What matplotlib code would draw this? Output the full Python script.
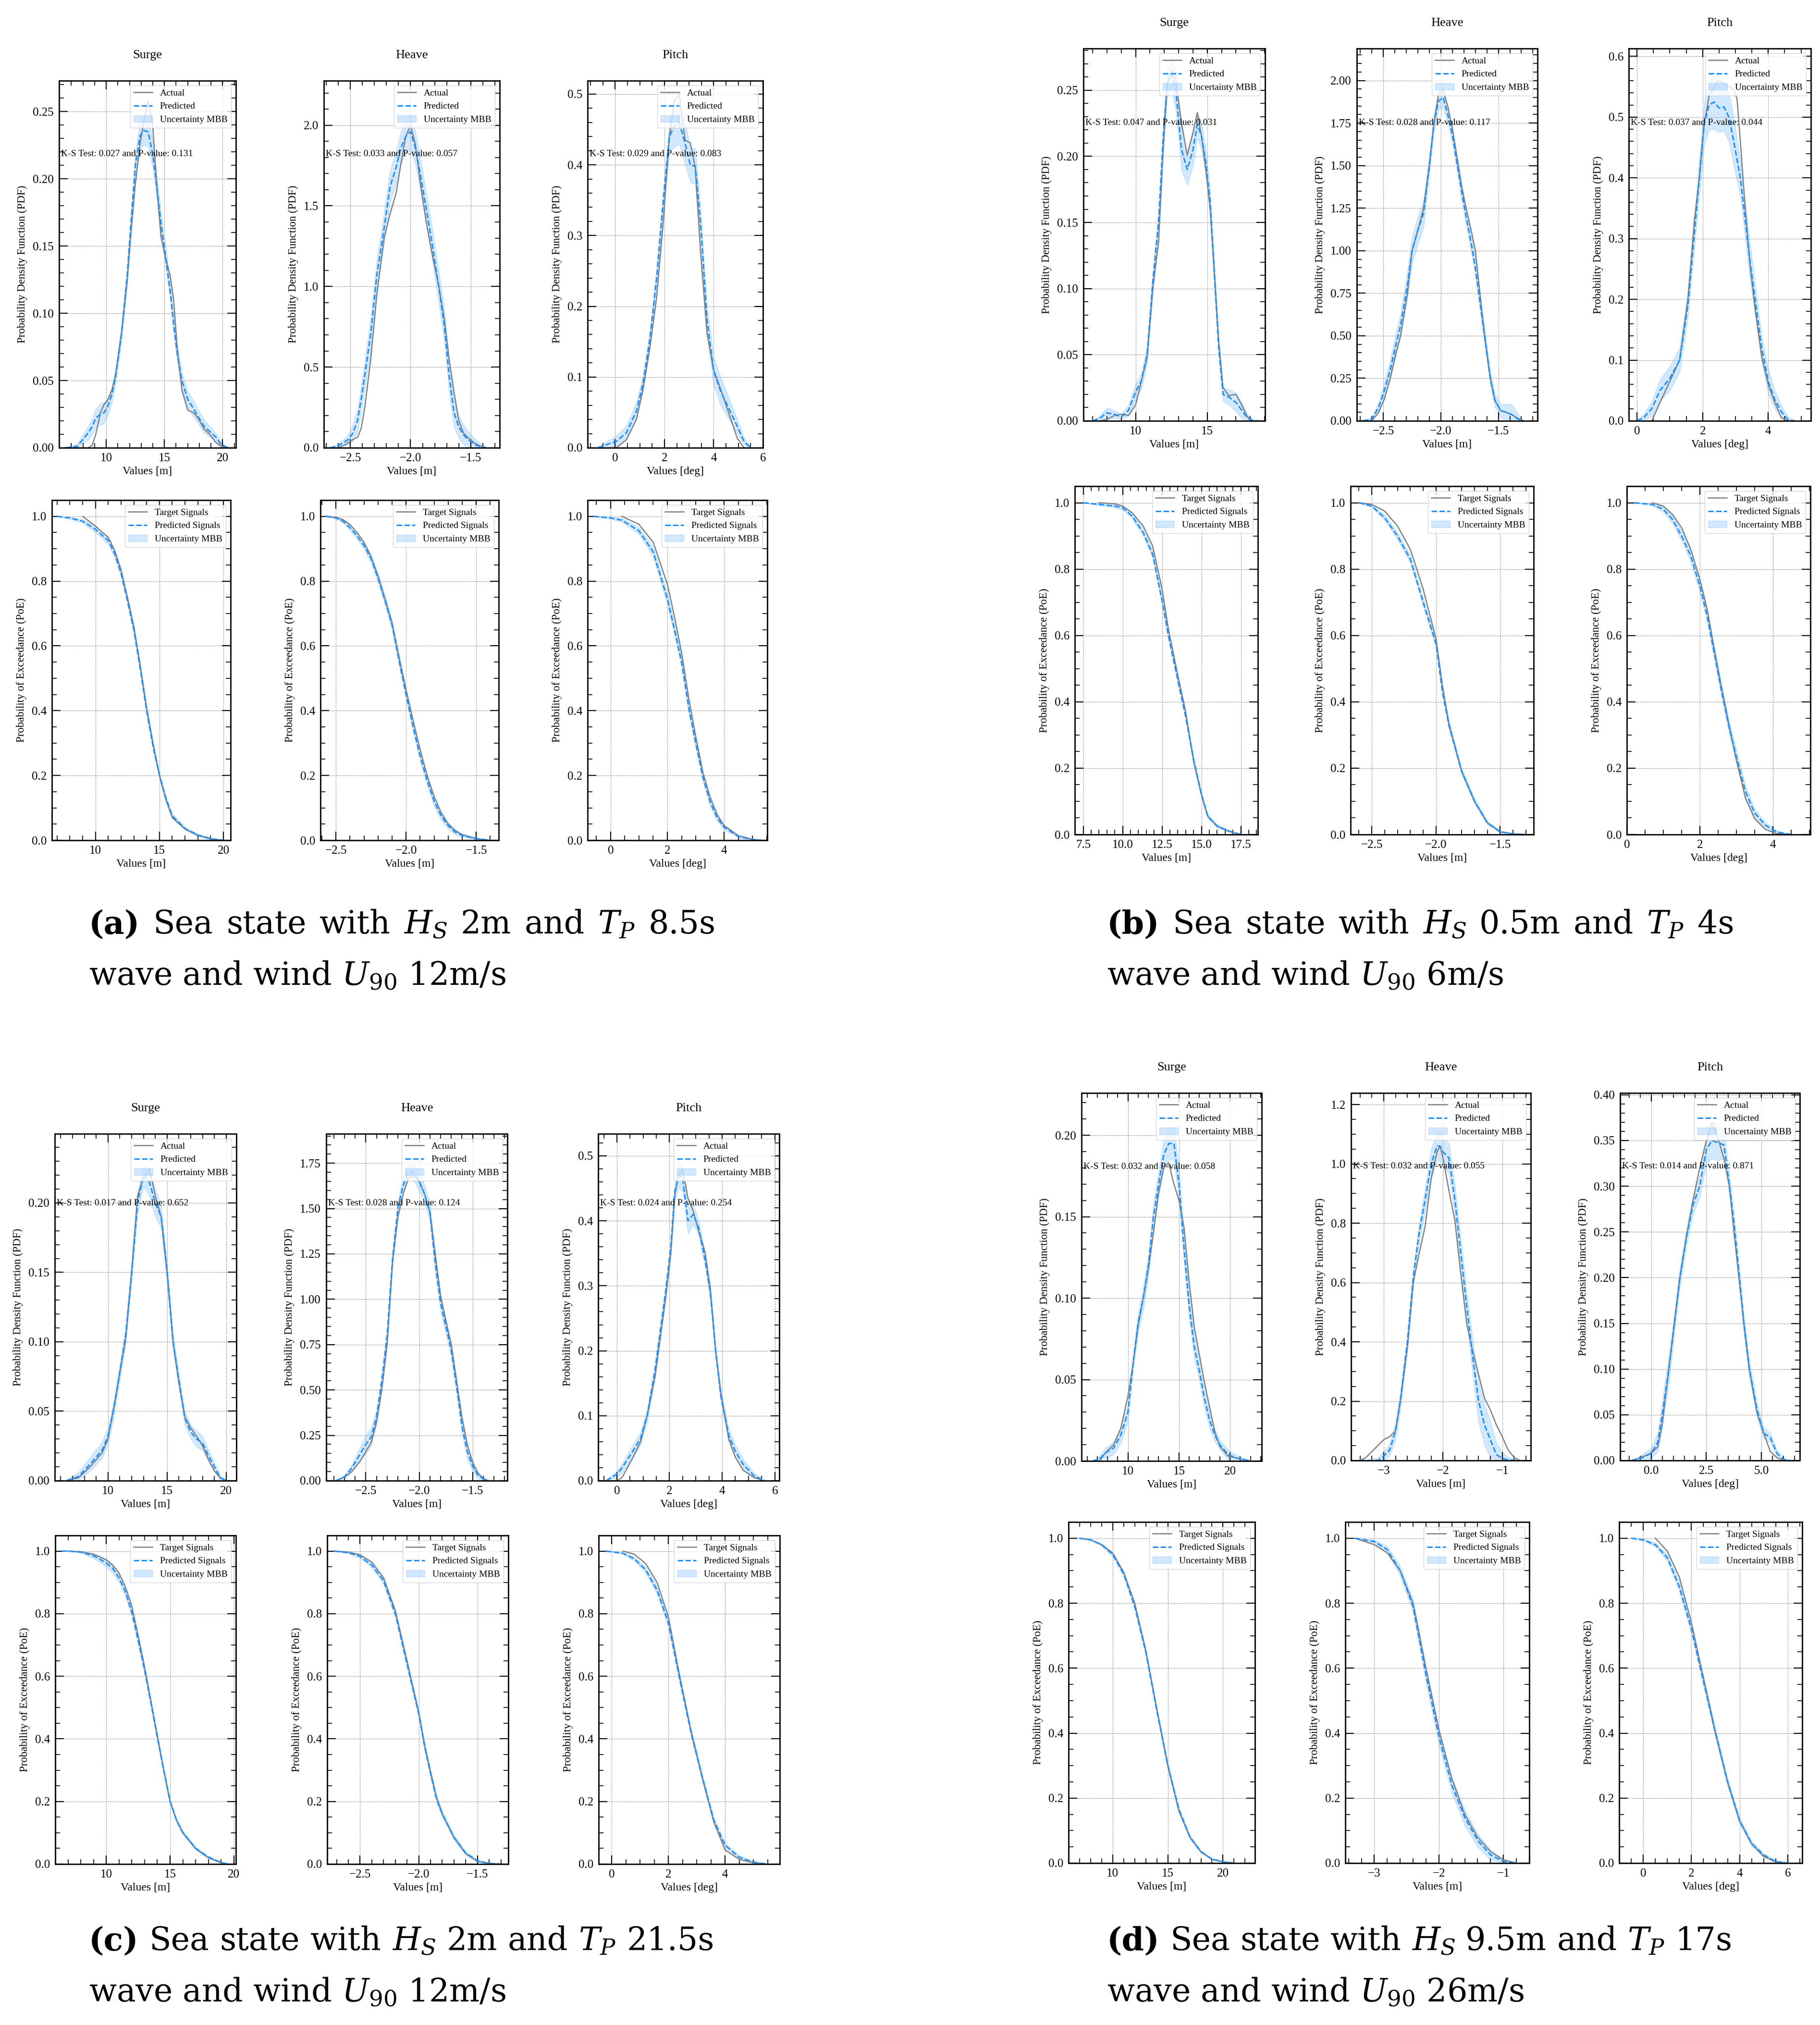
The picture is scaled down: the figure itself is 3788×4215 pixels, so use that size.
import numpy as np
import matplotlib
matplotlib.use("Agg")
import matplotlib.pyplot as plt
from matplotlib.ticker import MultipleLocator, AutoMinorLocator

nan = np.nan
W, H = 3788, 4215

# ---------------- sub-figure captions ----------------
CASE_TAGS = ['a', 'b', 'c', 'd']
CASE_HS = ['2m', '0.5m', '2m', '9.5m']
CASE_TP = ['8.5s', '4s', '21.5s', '17s']
CASE_U90 = ['12m/s', '6m/s', '12m/s', '26m/s']

DOF_TITLES = ['Surge', 'Heave', 'Pitch']
DOF_UNITS = ['Values [m]', 'Values [m]', 'Values [deg]']

# K-S statistic and p-value per case (surge, heave, pitch)
A_KS = [(0.027, 0.131), (0.033, 0.057), (0.029, 0.083)]
B_KS = [(0.047, 0.031), (0.028, 0.117), (0.037, 0.044)]
C_KS = [(0.017, 0.652), (0.028, 0.124), (0.024, 0.254)]
D_KS = [(0.032, 0.058), (0.032, 0.055), (0.014, 0.871)]

# ================= (a) Hs 2m, Tp 8.5s, U90 12m/s =================
A_SURGE_X = [6.5, 7.5, 8.45, 8.8, 9.1, 9.5, 9.8, 10.1, 10.5, 10.8, 11.3, 11.8, 12.1, 12.5, 12.9, 13.2, 13.6,
             14.0, 14.3, 14.7, 15.1, 15.5, 15.8, 16.1, 16.5, 17.0, 17.5, 17.9, 18.4, 18.9, 19.4, 19.9, 20.5]
A_SURGE_ACT = [0, 0, 0, 0.002, 0.01, 0.026, 0.032, 0.035, 0.043, 0.054, 0.085, 0.124, 0.157, 0.196, 0.226, 0.241,
               0.258, 0.239, 0.2, 0.157, 0.141, 0.128, 0.109, 0.074, 0.043, 0.028, 0.026, 0.022, 0.014, 0.01,
               0.004, 0.001, 0]
A_SURGE_PRED = [0, 0.001, 0.011, 0.016, 0.022, 0.025, 0.026, 0.03, 0.04, 0.053, 0.084, 0.128, 0.164, 0.21, 0.232,
                0.236, 0.235, 0.218, 0.197, 0.167, 0.142, 0.116, 0.091, 0.07, 0.05, 0.036, 0.029, 0.023, 0.016,
                0.012, 0.008, 0.002, 0]
A_SURGE_BAND = [0, 0.002, 0.005, 0.006, 0.007, 0.008, 0.008, 0.007, 0.006, 0.006, 0.006, 0.007, 0.008, 0.009,
                0.01, 0.011, 0.011, 0.01, 0.009, 0.008, 0.008, 0.007, 0.007, 0.006, 0.006, 0.006, 0.006, 0.005,
                0.005, 0.004, 0.003, 0.002, 0]

A_HEAVE_X = [-2.67, -2.61, -2.56, -2.52, -2.48, -2.44, -2.41, -2.38, -2.33, -2.28, -2.22, -2.17, -2.12, -2.08,
             -2.04, -2.0, -1.96, -1.92, -1.87, -1.82, -1.77, -1.72, -1.68, -1.64, -1.6, -1.56, -1.52, -1.47,
             -1.42, -1.37]
A_HEAVE_ACT = [0, 0.0, 0.012, 0.03, 0.05, 0.065, 0.12, 0.25, 0.55, 0.95, 1.3, 1.45, 1.58, 1.76, 1.93, 2.0, 1.88,
               1.65, 1.4, 1.2, 1.02, 0.8, 0.55, 0.35, 0.17, 0.09, 0.06, 0.03, 0.01, 0]
A_HEAVE_PRED = [0, 0.01, 0.03, 0.05, 0.09, 0.17, 0.3, 0.45, 0.71, 1.07, 1.36, 1.62, 1.74, 1.86, 1.93, 1.96, 1.86,
                1.7, 1.48, 1.26, 1.02, 0.76, 0.45, 0.22, 0.13, 0.08, 0.05, 0.02, 0.006, 0]
A_HEAVE_BAND = [0, 0.01, 0.02, 0.03, 0.05, 0.07, 0.08, 0.09, 0.1, 0.1, 0.1, 0.1, 0.1, 0.1, 0.1, 0.12, 0.1, 0.1,
                0.1, 0.1, 0.1, 0.1, 0.1, 0.09, 0.07, 0.06, 0.05, 0.04, 0.02, 0]

A_PITCH_X = [-0.7, -0.3, 0.04, 0.45, 0.86, 1.13, 1.41, 1.68, 1.95, 2.2, 2.4, 2.6, 2.84, 3.05, 3.25, 3.46, 3.73,
             4.0, 4.28, 4.62, 4.96, 5.23, 5.5]
A_PITCH_ACT = [0, 0, 0, 0.011, 0.04, 0.083, 0.142, 0.212, 0.318, 0.44, 0.49, 0.5, 0.435, 0.431, 0.396, 0.279,
               0.161, 0.11, 0.083, 0.048, 0.013, 0, 0]
A_PITCH_PRED = [0, 0.005, 0.009, 0.021, 0.052, 0.091, 0.154, 0.24, 0.349, 0.44, 0.455, 0.46, 0.43, 0.4, 0.398,
                0.32, 0.18, 0.108, 0.08, 0.055, 0.03, 0.009, 0]
A_PITCH_BAND = [0.002, 0.005, 0.008, 0.01, 0.012, 0.012, 0.012, 0.012, 0.015, 0.02, 0.03, 0.03, 0.03, 0.025,
                0.025, 0.02, 0.02, 0.02, 0.02, 0.015, 0.01, 0.005, 0]

A_SURGE_POE_X = [7.0, 8.0, 9.0, 10.0, 11.0, 11.5, 12.0, 12.5, 13.0, 13.5, 14.0, 14.5, 15.0, 15.5, 16.0, 17.0,
                 18.0, 19.0, 20.0]
A_SURGE_POE_ACT = [nan, nan, 1.0, 0.97, 0.935, 0.895, 0.835, 0.75, 0.66, 0.54, 0.41, 0.3, 0.2, 0.125, 0.07,
                   0.035, 0.015, 0.004, 0.0]
A_SURGE_POE_PRED = [1.0, 0.995, 0.985, 0.96, 0.925, 0.885, 0.825, 0.74, 0.65, 0.53, 0.4, 0.29, 0.2, 0.13, 0.075,
                    0.036, 0.016, 0.005, 0.0]
A_SURGE_POE_BAND = [0, 0.003, 0.006, 0.01, 0.012, 0.012, 0.012, 0.012, 0.012, 0.012, 0.01, 0.01, 0.01, 0.008,
                    0.007, 0.005, 0.004, 0.002, 0]

A_HEAVE_POE_X = [-2.57, -2.5, -2.45, -2.4, -2.35, -2.3, -2.25, -2.2, -2.15, -2.1, -2.05, -2.0, -1.95, -1.9,
                 -1.85, -1.8, -1.75, -1.7, -1.65, -1.6, -1.5, -1.4]
A_HEAVE_POE_ACT = [1.0, 0.997, 0.99, 0.975, 0.95, 0.92, 0.875, 0.815, 0.745, 0.67, 0.565, 0.465, 0.37, 0.28,
                   0.2, 0.135, 0.085, 0.05, 0.03, 0.017, 0.005, 0.0]
A_HEAVE_POE_PRED = [1.0, 0.995, 0.985, 0.965, 0.94, 0.91, 0.87, 0.81, 0.74, 0.665, 0.555, 0.45, 0.35, 0.26,
                    0.185, 0.12, 0.075, 0.045, 0.025, 0.015, 0.005, 0.0]
A_HEAVE_POE_BAND = [0, 0.003, 0.005, 0.008, 0.01, 0.012, 0.013, 0.015, 0.015, 0.015, 0.015, 0.015, 0.015,
                    0.015, 0.015, 0.015, 0.013, 0.01, 0.008, 0.006, 0.003, 0]

A_PITCH_POE_X = [-0.6, 0.0, 0.4, 1.0, 1.5, 2.0, 2.25, 2.5, 2.75, 3.0, 3.25, 3.5, 3.75, 4.0, 4.5, 5.0, 5.3]
A_PITCH_POE_ACT = [nan, nan, 1.0, 0.975, 0.92, 0.79, 0.69, 0.58, 0.44, 0.32, 0.21, 0.135, 0.08, 0.045, 0.014,
                   0.003, 0.0]
A_PITCH_POE_PRED = [1.0, 0.995, 0.988, 0.955, 0.89, 0.745, 0.65, 0.55, 0.41, 0.3, 0.195, 0.12, 0.07, 0.04,
                    0.012, 0.002, 0.0]
A_PITCH_POE_BAND = [0, 0.003, 0.006, 0.01, 0.015, 0.018, 0.018, 0.018, 0.018, 0.016, 0.014, 0.012, 0.01,
                    0.008, 0.004, 0.002, 0]

# ================= (b) Hs 0.5m, Tp 4s, U90 6m/s =================
B_SURGE_X = [7.0, 7.5, 8.0, 8.5, 9.0, 9.5, 10.0, 10.4, 10.8, 11.2, 11.6, 11.9, 12.2, 12.5, 12.8, 13.2, 13.6,
             14.0, 14.3, 14.6, 14.9, 15.2, 15.5, 15.8, 16.1, 16.5, 17.0, 17.4, 17.8, 18.2, 18.6]
B_SURGE_ACT = [0, 0, 0.001, 0.004, 0.005, 0.004, 0.012, 0.03, 0.048, 0.1, 0.135, 0.2, 0.255, 0.265, 0.258,
               0.225, 0.201, 0.218, 0.233, 0.215, 0.19, 0.16, 0.11, 0.06, 0.025, 0.019, 0.02, 0.012, 0.003, 0.0, 0.0]
B_SURGE_PRED = [0, 0.002, 0.006, 0.005, 0.003, 0.008, 0.022, 0.03, 0.05, 0.105, 0.15, 0.21, 0.255, 0.262, 0.25,
                0.205, 0.19, 0.205, 0.224, 0.215, 0.195, 0.165, 0.11, 0.055, 0.02, 0.018, 0.014, 0.008, 0.002,
                0.0, 0.0]
B_SURGE_BAND = [0, 0.002, 0.004, 0.003, 0.002, 0.004, 0.006, 0.006, 0.007, 0.009, 0.01, 0.01, 0.01, 0.012,
                0.015, 0.015, 0.012, 0.012, 0.01, 0.01, 0.01, 0.009, 0.008, 0.006, 0.005, 0.006, 0.007, 0.006,
                0.003, 0.001, 0]

B_HEAVE_X = [-2.68, -2.6, -2.54, -2.49, -2.44, -2.39, -2.35, -2.29, -2.25, -2.2, -2.15, -2.1, -2.06, -2.02,
             -1.98, -1.94, -1.9, -1.86, -1.82, -1.78, -1.73, -1.7, -1.66, -1.62, -1.57, -1.53, -1.48, -1.43,
             -1.38, -1.33, -1.28]
B_HEAVE_ACT = [0, 0.0, 0.05, 0.13, 0.25, 0.4, 0.5, 0.75, 1.0, 1.12, 1.25, 1.5, 1.75, 1.92, 1.94, 1.85, 1.72,
               1.55, 1.38, 1.25, 1.1, 1.0, 0.75, 0.5, 0.25, 0.12, 0.06, 0.05, 0.035, 0.015, 0.0]
B_HEAVE_PRED = [0, 0.01, 0.08, 0.18, 0.3, 0.45, 0.56, 0.8, 1.0, 1.12, 1.22, 1.5, 1.75, 1.88, 1.9, 1.8, 1.68,
                1.52, 1.35, 1.2, 1.02, 0.9, 0.7, 0.5, 0.25, 0.12, 0.06, 0.05, 0.035, 0.01, 0.0]
B_HEAVE_BAND = [0, 0.01, 0.03, 0.05, 0.06, 0.07, 0.07, 0.08, 0.08, 0.08, 0.08, 0.06, 0.05, 0.05, 0.06, 0.05,
                0.05, 0.05, 0.05, 0.05, 0.05, 0.05, 0.05, 0.05, 0.04, 0.04, 0.04, 0.05, 0.06, 0.03, 0]

B_PITCH_X = [0.0, 0.2, 0.45, 0.7, 1.0, 1.3, 1.55, 1.75, 1.9, 2.05, 2.2, 2.35, 2.5, 2.65, 2.8, 2.95, 3.05, 3.15,
             3.3, 3.45, 3.6, 3.8, 4.0, 4.2, 4.4, 4.6, 4.8]
B_PITCH_ACT = [0, 0, 0.0, 0.03, 0.065, 0.1, 0.2, 0.33, 0.4, 0.49, 0.535, 0.55, 0.56, 0.555, 0.55, 0.545, 0.53,
               0.46, 0.35, 0.255, 0.185, 0.105, 0.06, 0.03, 0.005, 0, 0]
B_PITCH_PRED = [0.0, 0.005, 0.02, 0.05, 0.07, 0.1, 0.19, 0.31, 0.4, 0.49, 0.52, 0.525, 0.515, 0.517, 0.5, 0.46,
                0.43, 0.4, 0.33, 0.26, 0.2, 0.12, 0.065, 0.035, 0.015, 0.002, 0]
B_PITCH_BAND = [0.002, 0.006, 0.012, 0.018, 0.02, 0.02, 0.02, 0.025, 0.03, 0.035, 0.04, 0.045, 0.04, 0.04, 0.04,
                0.04, 0.035, 0.03, 0.03, 0.03, 0.025, 0.02, 0.02, 0.015, 0.01, 0.005, 0]

B_SURGE_POE_X = [7.5, 8.5, 9.5, 10.0, 10.6, 11.3, 11.9, 12.5, 12.9, 13.5, 14.0, 14.5, 15.0, 15.4, 16.0, 16.7, 17.5]
B_SURGE_POE_ACT = [nan, 1.0, 0.997, 0.99, 0.97, 0.93, 0.87, 0.74, 0.62, 0.48, 0.37, 0.22, 0.12, 0.055, 0.025,
                   0.01, 0.0]
B_SURGE_POE_PRED = [1.0, 0.995, 0.99, 0.985, 0.96, 0.91, 0.845, 0.705, 0.6, 0.465, 0.355, 0.225, 0.12, 0.055,
                    0.025, 0.011, 0.0]
B_SURGE_POE_BAND = [0, 0.003, 0.005, 0.006, 0.008, 0.01, 0.012, 0.012, 0.012, 0.01, 0.01, 0.01, 0.008, 0.006,
                    0.005, 0.003, 0]

B_HEAVE_POE_X = [-2.6, -2.5, -2.4, -2.3, -2.2, -2.1, -2.0, -1.95, -1.9, -1.8, -1.7, -1.6, -1.5, -1.4, -1.3]
B_HEAVE_POE_ACT = [1.0, 0.995, 0.975, 0.93, 0.86, 0.74, 0.59, 0.45, 0.335, 0.19, 0.1, 0.035, 0.008, 0.002, 0.0]
B_HEAVE_POE_PRED = [1.0, 0.99, 0.955, 0.9, 0.83, 0.7, 0.575, 0.43, 0.33, 0.19, 0.1, 0.035, 0.008, 0.002, 0.0]
B_HEAVE_POE_BAND = [0, 0.004, 0.008, 0.01, 0.012, 0.012, 0.012, 0.012, 0.012, 0.01, 0.008, 0.006, 0.003,
                    0.001, 0]

B_PITCH_POE_X = [0.2, 0.7, 1.0, 1.25, 1.5, 1.75, 2.0, 2.2, 2.4, 2.6, 2.8, 3.0, 3.25, 3.5, 3.8, 4.1, 4.5]
B_PITCH_POE_ACT = [nan, 1.0, 0.99, 0.965, 0.925, 0.86, 0.77, 0.68, 0.555, 0.44, 0.33, 0.225, 0.11, 0.048, 0.015,
                   0.003, 0.0]
B_PITCH_POE_PRED = [1.0, 0.995, 0.98, 0.95, 0.9, 0.84, 0.75, 0.66, 0.545, 0.43, 0.325, 0.235, 0.13, 0.065,
                    0.028, 0.008, 0.0]
B_PITCH_POE_BAND = [0, 0.004, 0.008, 0.012, 0.015, 0.018, 0.02, 0.02, 0.02, 0.02, 0.02, 0.02, 0.018, 0.012,
                    0.008, 0.004, 0]

# ================= (c) Hs 2m, Tp 21.5s, U90 12m/s =================
C_SURGE_X = [6.5, 7.5, 8.5, 9.5, 10.0, 10.5, 11.0, 11.5, 12.0, 12.5, 13.0, 13.5, 14.0, 14.5, 15.0, 15.5, 16.0,
             16.5, 17.0, 17.5, 18.0, 18.5, 19.0, 19.5, 20.0]
C_SURGE_ACT = [0, 0.002, 0.01, 0.02, 0.03, 0.053, 0.078, 0.102, 0.15, 0.205, 0.218, 0.225, 0.205, 0.19, 0.15,
               0.1, 0.07, 0.046, 0.038, 0.032, 0.025, 0.015, 0.007, 0.002, 0]
C_SURGE_PRED = [0, 0.003, 0.012, 0.022, 0.032, 0.052, 0.078, 0.105, 0.15, 0.2, 0.22, 0.215, 0.2, 0.19, 0.15,
                0.1, 0.072, 0.045, 0.035, 0.03, 0.027, 0.018, 0.01, 0.002, 0]
C_SURGE_BAND = [0.001, 0.003, 0.005, 0.006, 0.006, 0.006, 0.006, 0.006, 0.007, 0.008, 0.008, 0.01, 0.01, 0.008,
                0.007, 0.006, 0.005, 0.005, 0.005, 0.006, 0.005, 0.004, 0.003, 0.002, 0]

C_HEAVE_X = [-2.78, -2.7, -2.63, -2.55, -2.5, -2.45, -2.4, -2.35, -2.3, -2.25, -2.2, -2.15, -2.1, -2.05, -2.0,
             -1.95, -1.9, -1.85, -1.8, -1.75, -1.7, -1.65, -1.6, -1.55, -1.5, -1.45, -1.4, -1.35]
C_HEAVE_ACT = [0, 0.02, 0.05, 0.11, 0.16, 0.21, 0.32, 0.5, 0.75, 1.2, 1.45, 1.58, 1.67, 1.68, 1.65, 1.58, 1.48,
               1.25, 1.02, 0.88, 0.75, 0.55, 0.35, 0.2, 0.1, 0.04, 0.01, 0]
C_HEAVE_PRED = [0, 0.02, 0.07, 0.15, 0.2, 0.24, 0.35, 0.55, 0.8, 1.22, 1.5, 1.63, 1.7, 1.7, 1.65, 1.58, 1.48,
                1.2, 0.98, 0.85, 0.72, 0.52, 0.3, 0.16, 0.08, 0.03, 0.01, 0]
C_HEAVE_BAND = [0, 0.01, 0.02, 0.04, 0.05, 0.05, 0.04, 0.04, 0.04, 0.04, 0.04, 0.04, 0.04, 0.05, 0.05, 0.05,
                0.05, 0.05, 0.05, 0.04, 0.04, 0.04, 0.04, 0.04, 0.03, 0.02, 0.01, 0]

C_PITCH_X = [-0.4, 0.0, 0.2, 0.6, 0.9, 1.15, 1.45, 1.65, 1.85, 2.05, 2.2, 2.35, 2.5, 2.7, 2.9, 3.1, 3.35, 3.55,
             3.75, 3.95, 4.25, 4.5, 4.8, 5.2, 5.6]
C_PITCH_ACT = [0, 0, 0.005, 0.035, 0.06, 0.1, 0.16, 0.22, 0.28, 0.35, 0.44, 0.47, 0.48, 0.435, 0.415, 0.385,
               0.352, 0.295, 0.2, 0.135, 0.064, 0.036, 0.016, 0.005, 0]
C_PITCH_PRED = [0, 0.01, 0.02, 0.045, 0.065, 0.1, 0.17, 0.23, 0.29, 0.36, 0.445, 0.47, 0.465, 0.4, 0.41, 0.39,
                0.34, 0.29, 0.2, 0.13, 0.07, 0.045, 0.025, 0.008, 0]
C_PITCH_BAND = [0.002, 0.005, 0.007, 0.01, 0.01, 0.01, 0.012, 0.012, 0.012, 0.012, 0.015, 0.02, 0.02, 0.02,
                0.015, 0.012, 0.012, 0.012, 0.01, 0.01, 0.01, 0.01, 0.008, 0.004, 0]

C_SURGE_POE_X = [6.5, 7.0, 8.0, 9.0, 10.0, 10.5, 11.0, 11.5, 12.0, 12.5, 13.0, 13.5, 14.0, 14.5, 15.0, 15.5,
                 16.0, 17.0, 18.0, 19.0, 19.5]
C_SURGE_POE_ACT = [nan, 1.0, 0.998, 0.99, 0.972, 0.955, 0.93, 0.885, 0.825, 0.73, 0.63, 0.52, 0.41, 0.3, 0.2,
                   0.14, 0.1, 0.05, 0.02, 0.004, 0.0]
C_SURGE_POE_PRED = [1.0, 1.0, 0.997, 0.985, 0.962, 0.945, 0.915, 0.87, 0.805, 0.715, 0.62, 0.515, 0.405, 0.3,
                    0.2, 0.14, 0.1, 0.05, 0.022, 0.005, 0.0]
C_SURGE_POE_BAND = [0, 0, 0.003, 0.008, 0.012, 0.015, 0.015, 0.015, 0.015, 0.015, 0.013, 0.012, 0.01, 0.01,
                    0.008, 0.007, 0.006, 0.005, 0.004, 0.002, 0]

C_HEAVE_POE_X = [-2.72, -2.6, -2.5, -2.4, -2.3, -2.2, -2.1, -2.05, -2.0, -1.95, -1.9, -1.85, -1.8, -1.7, -1.6,
                 -1.5, -1.4, -1.3]
C_HEAVE_POE_ACT = [1.0, 0.997, 0.988, 0.965, 0.915, 0.81, 0.65, 0.565, 0.485, 0.38, 0.295, 0.215, 0.16, 0.085,
                   0.033, 0.009, 0.002, 0.0]
C_HEAVE_POE_PRED = [1.0, 0.995, 0.983, 0.955, 0.905, 0.8, 0.64, 0.56, 0.48, 0.375, 0.29, 0.21, 0.16, 0.085,
                    0.035, 0.01, 0.002, 0.0]
C_HEAVE_POE_BAND = [0, 0.003, 0.006, 0.008, 0.01, 0.012, 0.012, 0.012, 0.012, 0.012, 0.012, 0.012, 0.01,
                    0.008, 0.006, 0.004, 0.002, 0]

C_PITCH_POE_X = [-0.2, 0.4, 0.8, 1.2, 1.6, 2.0, 2.4, 2.8, 3.2, 3.6, 4.0, 4.5, 5.0, 5.5]
C_PITCH_POE_ACT = [nan, 1.0, 0.99, 0.96, 0.9, 0.79, 0.6, 0.425, 0.275, 0.135, 0.045, 0.015, 0.004, 0.0]
C_PITCH_POE_PRED = [1.0, 0.993, 0.975, 0.94, 0.875, 0.77, 0.59, 0.42, 0.275, 0.14, 0.06, 0.022, 0.006, 0.0]
C_PITCH_POE_BAND = [0, 0.003, 0.006, 0.01, 0.012, 0.012, 0.012, 0.012, 0.012, 0.01, 0.008, 0.005, 0.003, 0]

# ================= (d) Hs 9.5m, Tp 17s, U90 26m/s =================
D_SURGE_X = [6.5, 7.2, 7.8, 8.6, 9.3, 10.0, 10.5, 11.0, 11.5, 12.0, 12.5, 13.0, 13.5, 14.0, 14.5, 15.0, 15.5,
             16.0, 16.5, 17.0, 17.5, 18.0, 18.5, 19.0, 19.8, 20.5, 21.2, 22.0]
D_SURGE_ACT = [0, 0, 0.005, 0.01, 0.02, 0.04, 0.06, 0.083, 0.1, 0.118, 0.14, 0.165, 0.18, 0.183, 0.17, 0.16,
               0.143, 0.11, 0.082, 0.065, 0.048, 0.033, 0.018, 0.009, 0.003, 0.002, 0.001, 0]
D_SURGE_PRED = [0, 0.001, 0.005, 0.008, 0.016, 0.03, 0.06, 0.085, 0.1, 0.12, 0.15, 0.17, 0.188, 0.195, 0.195,
                0.17, 0.13, 0.095, 0.07, 0.055, 0.038, 0.025, 0.016, 0.01, 0.004, 0.002, 0.001, 0]
D_SURGE_BAND = [0, 0.002, 0.003, 0.004, 0.005, 0.005, 0.005, 0.006, 0.007, 0.007, 0.008, 0.008, 0.009, 0.01,
                0.01, 0.01, 0.009, 0.008, 0.007, 0.006, 0.006, 0.005, 0.004, 0.003, 0.003, 0.002, 0.001, 0]

D_HEAVE_X = [-3.4, -3.3, -3.2, -3.1, -3.0, -2.9, -2.8, -2.72, -2.6, -2.5, -2.4, -2.3, -2.2, -2.1, -2.05, -2.0,
             -1.9, -1.8, -1.7, -1.6, -1.5, -1.4, -1.3, -1.2, -1.1, -1.0, -0.9, -0.8, -0.7]
D_HEAVE_ACT = [0, 0.01, 0.03, 0.05, 0.07, 0.08, 0.1, 0.2, 0.38, 0.6, 0.7, 0.79, 0.95, 1.04, 1.06, 1.02, 0.91,
               0.81, 0.63, 0.46, 0.37, 0.29, 0.21, 0.17, 0.12, 0.08, 0.035, 0.01, 0.0]
D_HEAVE_PRED = [0, 0, 0, 0.0, 0.015, 0.035, 0.1, 0.2, 0.4, 0.62, 0.77, 0.88, 1.0, 1.06, 1.06, 1.04, 1.02, 0.88,
                0.7, 0.52, 0.35, 0.2, 0.12, 0.07, 0.02, 0.007, 0.002, 0, 0]
D_HEAVE_BAND = [0, 0, 0.005, 0.01, 0.015, 0.02, 0.03, 0.03, 0.03, 0.03, 0.03, 0.04, 0.05, 0.05, 0.05, 0.05,
                0.05, 0.05, 0.05, 0.05, 0.06, 0.07, 0.07, 0.06, 0.04, 0.02, 0.01, 0.005, 0]

D_PITCH_X = [-0.9, -0.5, 0.0, 0.3, 0.5, 0.8, 1.0, 1.3, 1.6, 1.9, 2.2, 2.5, 2.75, 3.0, 3.3, 3.55, 3.75, 4.0, 4.2,
             4.45, 4.8, 5.1, 5.4, 5.7, 6.0, 6.3]
D_PITCH_ACT = [0, 0.003, 0.008, 0.015, 0.04, 0.1, 0.14, 0.2, 0.245, 0.285, 0.32, 0.35, 0.37, 0.355, 0.33, 0.3,
               0.25, 0.195, 0.15, 0.1, 0.052, 0.03, 0.01, 0.003, 0, 0]
D_PITCH_PRED = [0, 0.002, 0.008, 0.02, 0.05, 0.1, 0.14, 0.2, 0.245, 0.28, 0.3, 0.34, 0.35, 0.348, 0.345, 0.3,
                0.26, 0.2, 0.15, 0.1, 0.055, 0.03, 0.025, 0.008, 0.001, 0]
D_PITCH_BAND = [0, 0.003, 0.006, 0.01, 0.015, 0.015, 0.012, 0.01, 0.01, 0.01, 0.012, 0.015, 0.02, 0.02, 0.015,
                0.012, 0.01, 0.01, 0.01, 0.01, 0.008, 0.006, 0.005, 0.004, 0.002, 0]

D_SURGE_POE_X = [7.0, 8.0, 9.0, 10.0, 11.0, 12.0, 13.0, 14.0, 15.0, 16.0, 17.0, 18.0, 19.0, 20.0, 21.0]
D_SURGE_POE_ACT = [1.0, 0.995, 0.98, 0.955, 0.895, 0.8, 0.655, 0.475, 0.3, 0.16, 0.08, 0.035, 0.012, 0.004, 0.0]
D_SURGE_POE_PRED = [1.0, 0.995, 0.98, 0.95, 0.89, 0.79, 0.65, 0.47, 0.3, 0.165, 0.08, 0.035, 0.012, 0.004, 0.0]
D_SURGE_POE_BAND = [0, 0.002, 0.004, 0.006, 0.008, 0.01, 0.01, 0.01, 0.01, 0.008, 0.006, 0.004, 0.002, 0.001, 0]

D_HEAVE_POE_X = [-3.3, -3.0, -2.8, -2.6, -2.4, -2.2, -2.0, -1.8, -1.6, -1.4, -1.2, -1.0, -0.8]
D_HEAVE_POE_ACT = [1.0, 0.98, 0.955, 0.9, 0.8, 0.6, 0.41, 0.26, 0.15, 0.08, 0.035, 0.01, 0.0]
D_HEAVE_POE_PRED = [1.0, 0.99, 0.965, 0.9, 0.79, 0.58, 0.39, 0.24, 0.14, 0.07, 0.025, 0.005, 0.0]
D_HEAVE_POE_BAND = [0, 0.005, 0.01, 0.015, 0.02, 0.025, 0.025, 0.025, 0.025, 0.02, 0.015, 0.008, 0]

D_PITCH_POE_X = [-0.5, 0.0, 0.5, 1.0, 1.5, 2.0, 2.5, 3.0, 3.5, 4.0, 4.5, 5.0, 5.5, 6.0]
D_PITCH_POE_ACT = [nan, nan, 1.0, 0.96, 0.88, 0.74, 0.57, 0.4, 0.25, 0.13, 0.06, 0.02, 0.004, 0.0]
D_PITCH_POE_PRED = [1.0, 0.995, 0.98, 0.94, 0.85, 0.72, 0.56, 0.4, 0.25, 0.13, 0.06, 0.025, 0.005, 0.0]
D_PITCH_POE_BAND = [0, 0.003, 0.006, 0.01, 0.015, 0.015, 0.015, 0.015, 0.012, 0.01, 0.008, 0.005, 0.002, 0]

# ---------------- layout (pixel boxes: left, right, top, bottom) ----------------
LAYOUT = {
    'a': dict(pdf_box=[(123, 491, 168, 932), (674, 1040, 168, 932), (1223, 1588, 168, 932)],
              poe_box=[(108, 480, 1041, 1749), (667, 1038, 1041, 1749), (1223, 1597, 1041, 1749)],
              pdf_xlim=[(5.95, 21.14), (-2.72, -1.26), (-1.12, 6.0)],
              pdf_ytop=[0.273, 2.276, 0.519],
              pdf_step=[(5, 0.05), (0.5, 0.5), (2, 0.1)],
              poe_xlim=[(6.6, 20.56), (-2.61, -1.34), (-0.81, 5.52)],
              poe_xstep=[5, 0.5, 2],
              cap=(185, 1490, 1943, 2050)),
    'b': dict(pdf_box=[(2255, 2633, 101, 876), (2824, 3200, 101, 876), (3390, 3769, 101, 876)],
              poe_box=[(2237, 2618, 1012, 1737), (2811, 3192, 1012, 1737), (3386, 3768, 1012, 1737)],
              pdf_xlim=[(6.36, 19.03), (-2.73, -1.16), (-0.25, 5.3)],
              pdf_ytop=[0.2815, 2.188, 0.613],
              pdf_step=[(5, 0.05), (0.5, 0.25), (2, 0.1)],
              poe_xlim=[(6.96, 18.58), (-2.665, -1.24), (0.0, 5.03)],
              poe_xstep=[2.5, 0.5, 2],
              cap=(2304, 3609, 1943, 2050)),
    'c': dict(pdf_box=[(114, 492, 2360, 3082), (679, 1056, 2360, 3082), (1245, 1622, 2360, 3082)],
              poe_box=[(115, 491, 3196, 3880), (681, 1058, 3196, 3880), (1246, 1623, 3196, 3880)],
              pdf_xlim=[(5.5, 20.86), (-2.87, -1.175), (-0.71, 6.17)],
              pdf_ytop=[0.2498, 1.912, 0.534],
              pdf_step=[(5, 0.05), (0.5, 0.25), (2, 0.1)],
              poe_xlim=[(6.0, 20.16), (-2.78, -1.237), (-0.46, 5.93)],
              poe_xstep=[5, 0.5, 2],
              cap=(185, 1487, 4059, 4166)),
    'd': dict(pdf_box=[(2251, 2626, 2275, 3041), (2812, 3186, 2275, 3040), (3372, 3746, 2275, 3040)],
              poe_box=[(2224, 2612, 3168, 3878), (2800, 3183, 3168, 3878), (3370, 3751, 3168, 3878)],
              pdf_xlim=[(5.45, 23.1), (-3.55, -0.52), (-1.41, 6.74)],
              pdf_ytop=[0.226, 1.239, 0.402],
              pdf_step=[(5, 0.05), (1, 0.2), (2.5, 0.05)],
              poe_xlim=[(6.0, 22.9), (-3.45, -0.6), (-1.0, 6.6)],
              poe_xstep=[5, 1, 2],
              cap=(2304, 3606, 4059, 4166)),
}

PDF_DATA = {
    'a': [(A_SURGE_X, A_SURGE_ACT, A_SURGE_PRED, A_SURGE_BAND),
          (A_HEAVE_X, A_HEAVE_ACT, A_HEAVE_PRED, A_HEAVE_BAND),
          (A_PITCH_X, A_PITCH_ACT, A_PITCH_PRED, A_PITCH_BAND)],
    'b': [(B_SURGE_X, B_SURGE_ACT, B_SURGE_PRED, B_SURGE_BAND),
          (B_HEAVE_X, B_HEAVE_ACT, B_HEAVE_PRED, B_HEAVE_BAND),
          (B_PITCH_X, B_PITCH_ACT, B_PITCH_PRED, B_PITCH_BAND)],
    'c': [(C_SURGE_X, C_SURGE_ACT, C_SURGE_PRED, C_SURGE_BAND),
          (C_HEAVE_X, C_HEAVE_ACT, C_HEAVE_PRED, C_HEAVE_BAND),
          (C_PITCH_X, C_PITCH_ACT, C_PITCH_PRED, C_PITCH_BAND)],
    'd': [(D_SURGE_X, D_SURGE_ACT, D_SURGE_PRED, D_SURGE_BAND),
          (D_HEAVE_X, D_HEAVE_ACT, D_HEAVE_PRED, D_HEAVE_BAND),
          (D_PITCH_X, D_PITCH_ACT, D_PITCH_PRED, D_PITCH_BAND)],
}
POE_DATA = {
    'a': [(A_SURGE_POE_X, A_SURGE_POE_ACT, A_SURGE_POE_PRED, A_SURGE_POE_BAND),
          (A_HEAVE_POE_X, A_HEAVE_POE_ACT, A_HEAVE_POE_PRED, A_HEAVE_POE_BAND),
          (A_PITCH_POE_X, A_PITCH_POE_ACT, A_PITCH_POE_PRED, A_PITCH_POE_BAND)],
    'b': [(B_SURGE_POE_X, B_SURGE_POE_ACT, B_SURGE_POE_PRED, B_SURGE_POE_BAND),
          (B_HEAVE_POE_X, B_HEAVE_POE_ACT, B_HEAVE_POE_PRED, B_HEAVE_POE_BAND),
          (B_PITCH_POE_X, B_PITCH_POE_ACT, B_PITCH_POE_PRED, B_PITCH_POE_BAND)],
    'c': [(C_SURGE_POE_X, C_SURGE_POE_ACT, C_SURGE_POE_PRED, C_SURGE_POE_BAND),
          (C_HEAVE_POE_X, C_HEAVE_POE_ACT, C_HEAVE_POE_PRED, C_HEAVE_POE_BAND),
          (C_PITCH_POE_X, C_PITCH_POE_ACT, C_PITCH_POE_PRED, C_PITCH_POE_BAND)],
    'd': [(D_SURGE_POE_X, D_SURGE_POE_ACT, D_SURGE_POE_PRED, D_SURGE_POE_BAND),
          (D_HEAVE_POE_X, D_HEAVE_POE_ACT, D_HEAVE_POE_PRED, D_HEAVE_POE_BAND),
          (D_PITCH_POE_X, D_PITCH_POE_ACT, D_PITCH_POE_PRED, D_PITCH_POE_BAND)],
}
KS_DATA = {'a': A_KS, 'b': B_KS, 'c': C_KS, 'd': D_KS}

plt.rcParams['font.family'] = 'serif'
plt.rcParams['font.serif'] = ['Liberation Serif', 'DejaVu Serif']
plt.rcParams['mathtext.fontset'] = 'dejavuserif'

GRAY = '#808080'
BLUE = '#1E90FF'
CAP_FS = 48
CAP_FONT = 'DejaVu Serif'


def place(fig, box):
    l, r, t, b = box
    return fig.add_axes([l / W, 1 - b / H, (r - l) / W, (b - t) / H])


def style(ax, xlim, ylim, xstep, ystep):
    ax.set_xlim(xlim)
    ax.set_ylim(ylim)
    ax.xaxis.set_major_locator(MultipleLocator(xstep))
    ax.yaxis.set_major_locator(MultipleLocator(ystep))
    ax.xaxis.set_minor_locator(AutoMinorLocator())
    ax.yaxis.set_minor_locator(AutoMinorLocator())
    ax.tick_params(which='both', direction='in', top=True, right=True, labelsize=18, pad=8)
    ax.tick_params(which='major', length=13, width=1.6)
    ax.tick_params(which='minor', length=7, width=1.2)
    ax.grid(True, which='major', ls='--', lw=0.7, color='#999999')
    for s in ax.spines.values():
        s.set_linewidth(2.0)


def draw_curves(ax, x, act, pred, band, labels):
    x = np.asarray(x, float)
    pred = np.asarray(pred, float)
    band = np.asarray(band, float)
    ax.plot(x, act, color=GRAY, lw=1.8, label=labels[0])
    ax.plot(x, pred, color=BLUE, ls='--', lw=2.2, label=labels[1])
    ax.fill_between(x, np.clip(pred - band, 0, None), pred + band, color=BLUE, alpha=0.2,
                    label='Uncertainty MBB')
    ax.legend(loc='upper right', fontsize=14)


def caption(fig, tag, hs, tp, u90, x0, x1, y1, y2):
    # first line is justified between x0 and x1, as in the typeset sub-caption
    words = ['(%s)' % tag, 'Sea', 'state', 'with', '$H_S$', hs, 'and', '$T_P$', tp]
    rend = fig.canvas.get_renderer()
    items = []
    for i, w in enumerate(words):
        items.append(fig.text(0, 1 - y1 / H, w, fontsize=CAP_FS, family=CAP_FONT,
                              fontweight='bold' if i == 0 else 'normal', va='baseline'))
    widths = [t.get_window_extent(rend).width for t in items]
    gap = (x1 - x0 - sum(widths)) / (len(words) - 1)
    x = x0
    for t, w in zip(items, widths):
        t.set_x(x / W)
        x += w + gap
    fig.text(x0 / W, 1 - y2 / H, 'wave and wind $U_{90}$ ' + u90, fontsize=CAP_FS,
             family=CAP_FONT, va='baseline')


fig = plt.figure(figsize=(W / 100, H / 100), dpi=100)

for k, tag in enumerate(CASE_TAGS):
    lay = LAYOUT[tag]
    for j in range(3):
        # PDF row
        ax = place(fig, lay['pdf_box'][j])
        x, act, pred, band = PDF_DATA[tag][j]
        draw_curves(ax, x, act, pred, band, ('Actual', 'Predicted'))
        style(ax, lay['pdf_xlim'][j], (0, lay['pdf_ytop'][j]), *lay['pdf_step'][j])
        ax.set_title(DOF_TITLES[j], fontsize=19, pad=34)
        ax.set_xlabel(DOF_UNITS[j], fontsize=17, labelpad=4)
        ax.set_ylabel('Probability Density Function (PDF)', fontsize=16.5, labelpad=8)
        ks, pv = KS_DATA[tag][j]
        ax.text(0.01, 0.8, 'K-S Test: %.3f and P-value: %.3f' % (ks, pv), transform=ax.transAxes,
                fontsize=14, va='center', zorder=6)

        # PoE row
        ax = place(fig, lay['poe_box'][j])
        x, act, pred, band = POE_DATA[tag][j]
        draw_curves(ax, x, act, pred, band, ('Target Signals', 'Predicted Signals'))
        style(ax, lay['poe_xlim'][j], (0, 1.05), lay['poe_xstep'][j], 0.2)
        ax.set_xlabel(DOF_UNITS[j], fontsize=17, labelpad=4)
        ax.set_ylabel('Probability of Exceedance (PoE)', fontsize=16.5, labelpad=8)

    caption(fig, tag, CASE_HS[k], CASE_TP[k], CASE_U90[k], *lay['cap'])

fig.savefig('out.png', dpi=100)
